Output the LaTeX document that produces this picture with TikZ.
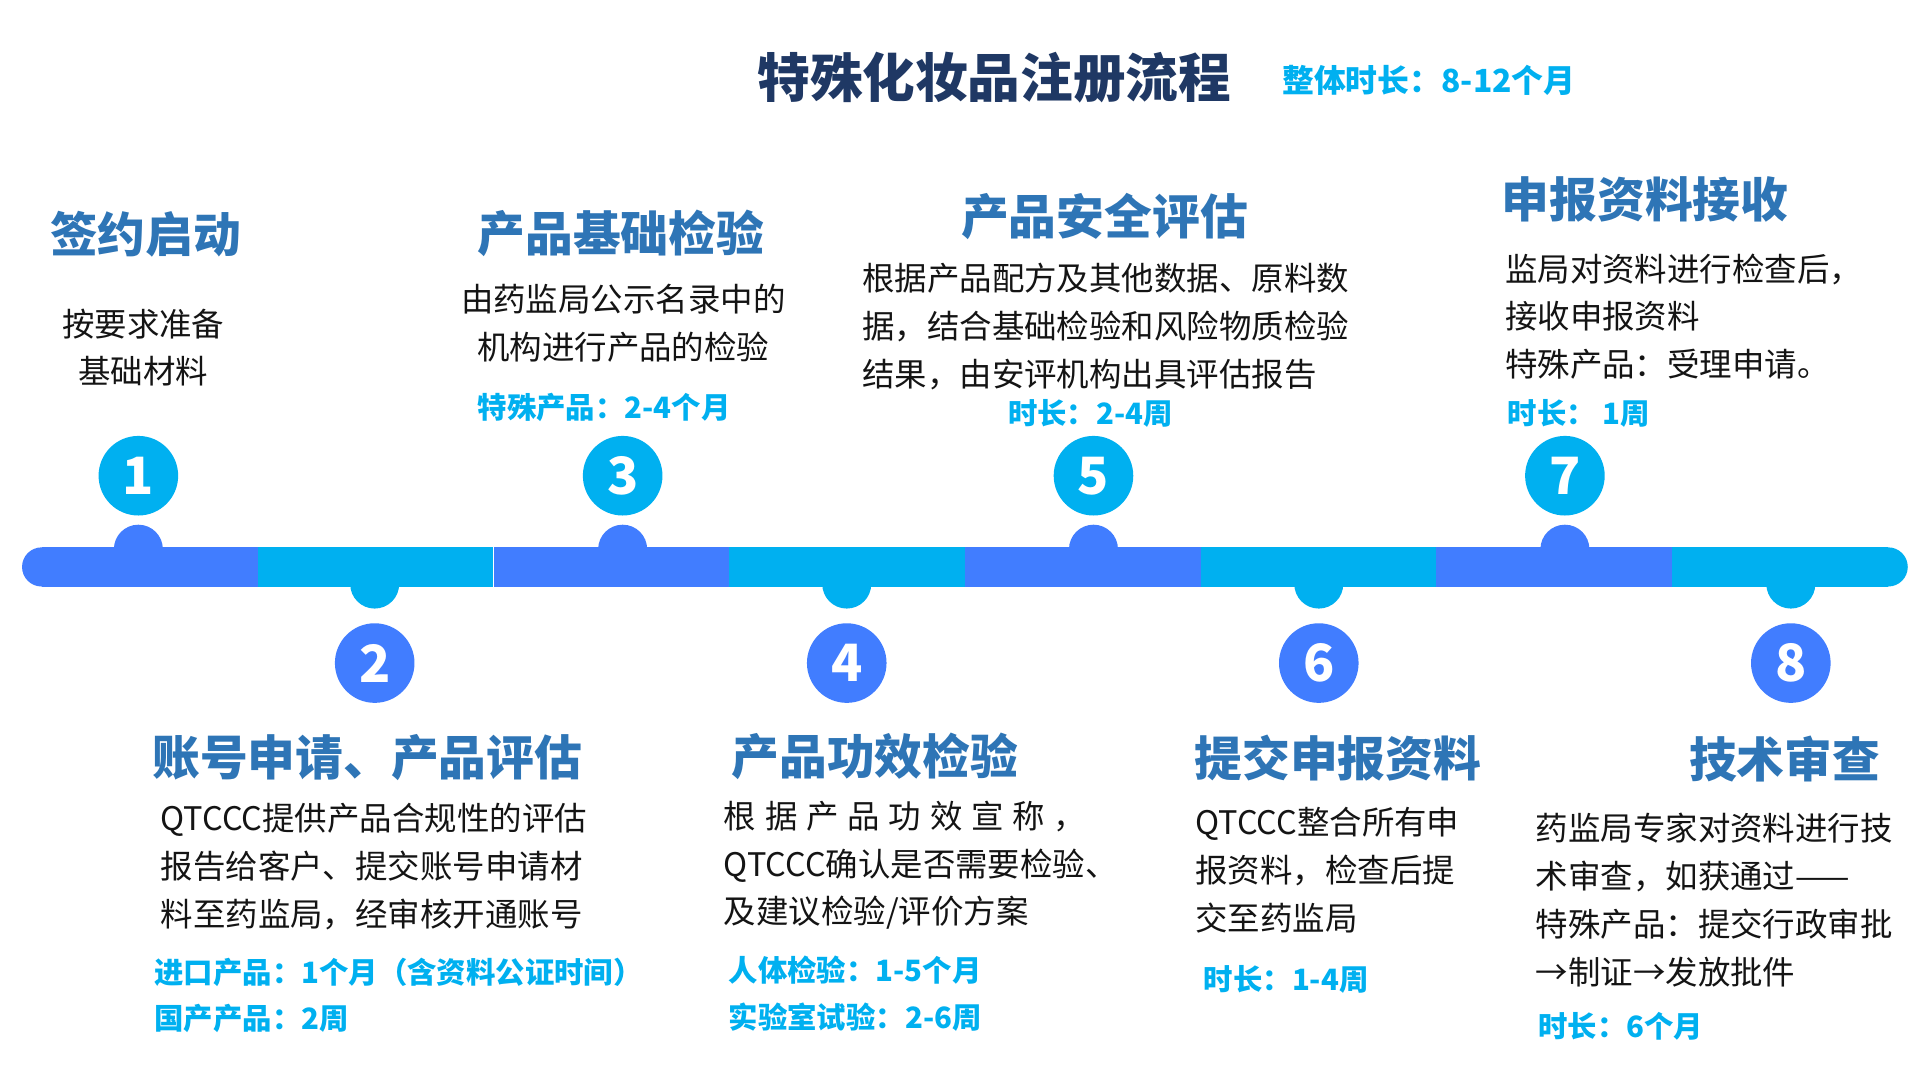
\documentclass[tikz,border=0pt]{standalone}
\usepackage{fontspec}
\setmainfont{Noto Sans CJK SC}
\definecolor{barblue}{RGB}{65,125,255}
\definecolor{cyanc}{RGB}{0,176,240}
\definecolor{headblue}{RGB}{46,117,182}
\definecolor{titlenavy}{RGB}{31,56,100}
\definecolor{bodytext}{RGB}{20,20,20}
\begin{document}
\begin{tikzpicture}[x=1pt,y=-1pt,
  titlestyle/.style={font=\fontsize{43}{50}\selectfont\bfseries, text=titlenavy, inner sep=0},
  substyle/.style={font=\fontsize{26}{32}\selectfont\bfseries, text=cyanc, inner sep=0, anchor=west},
  heading/.style={font=\fontsize{39}{47}\selectfont\bfseries, text=headblue, inner sep=0},
  body/.style={font=\fontsize{26.5}{39}\selectfont, text=bodytext, inner sep=0, align=left},
  dur/.style={font=\fontsize{24}{38}\selectfont\bfseries, text=cyanc, inner sep=0, anchor=west},
  numc/.style={circle, minimum size=65pt, inner sep=0, font=\fontsize{42}{42}\selectfont\bfseries, text=white}]
\useasboundingbox (0,0) rectangle (1568,882);
\fill[white] (0,0) rectangle (1568,882);

% timeline bar
\fill[barblue] (34,447) rectangle (210.5,479);
\fill[barblue] (34,463) circle (16pt);
\fill[cyanc] (210.5,447) rectangle (402.5,479);
\fill[barblue] (403.5,447) rectangle (595.5,479);
\fill[cyanc] (595.5,447) rectangle (788,479);
\fill[barblue] (788,447) rectangle (980.5,479);
\fill[cyanc] (980.5,447) rectangle (1173,479);
\fill[barblue] (1173,447) rectangle (1365.5,479);
\fill[cyanc] (1365.5,447) rectangle (1542,479);
\fill[cyanc] (1542,463) circle (16pt);

% bumps
\foreach \bx in {113,508.5,893,1278} \fill[barblue] (\bx,448.5) circle (20pt);
\foreach \bx in {306,691.5,1077,1462.5} \fill[cyanc] (\bx,477) circle (20pt);

% number circles
\node[numc, fill=cyanc] (n1) at (113,388.5) {1};
\node[numc, fill=barblue] (n2) at (306,541.5) {2};
\node[numc, fill=cyanc] (n3) at (508.5,388.5) {3};
\node[numc, fill=barblue] (n4) at (691.5,541.5) {4};
\node[numc, fill=cyanc] (n5) at (893,388.5) {5};
\node[numc, fill=barblue] (n6) at (1077,541.5) {6};
\node[numc, fill=cyanc] (n7) at (1278,388.5) {7};
\node[numc, fill=barblue] (n8) at (1462.5,541.5) {8};

% title
\node[titlestyle] (title) at (812,63) {特殊化妆品注册流程};
\node[substyle] (total) at (1047,66) {整体时长：8-12个月};

% headings
\node[heading] (h1) at (119,191) {签约启动};
\node[heading] (h3) at (507,191) {产品基础检验};
\node[heading] (h5) at (902,177) {产品安全评估};
\node[heading] (h7) at (1343.5,163) {申报资料接收};
\node[heading] (h2) at (300,619) {账号申请、产品评估};
\node[heading] (h4) at (714.5,618) {产品功效检验};
\node[heading] (h6) at (1092.5,619) {提交申报资料};
\node[heading] (h8) at (1457.5,620) {技术审查};

% bodies
\node[body, align=center, anchor=north] (b1) at (117,252) {按要求准备\\基础材料};
\node[body, align=center, anchor=north] (b3) at (509,232) {由药监局公示名录中的\\机构进行产品的检验};
\node[body, anchor=north west] (b5) at (704,215) {根据产品配方及其他数据、原料数\\据，结合基础检验和风险物质检验\\结果，由安评机构出具评估报告};
\node[body, anchor=north west] (b7) at (1229,207) {监局对资料进行检查后，\\接收申报资料\\特殊产品：受理申请。};
\node[body, anchor=north west] (b2) at (131,656) {QTCCC提供产品合规性的评估\\报告给客户、提交账号申请材\\料至药监局，经审核开通账号};
\node[body, anchor=north west] (b4) at (591,654) {\makebox[296pt][s]{根\hfill 据\hfill 产\hfill 品\hfill 功\hfill 效\hfill 宣\hfill 称\hfill ，}\\QTCCC确认是否需要检验、\\及建议检验/评价方案};
\node[body, anchor=north west] (b6) at (976,659) {QTCCC整合所有申\\报资料，检查后提\\交至药监局};
\node[body, anchor=north west] (b8) at (1254,664) {药监局专家对资料进行技\\术审查，如获通过——\\特殊产品：提交行政审批\\→制证→发放批件};

% durations
\node[dur] (d3) at (390,333) {特殊产品：2-4个月};
\node[dur] (d5) at (823,338) {时长：2-4周};
\node[dur] (d7) at (1231,338) {时长：\ 1周};
\node[dur] (d2a) at (126,794) {进口产品：1个月（含资料公证时间）};
\node[dur] (d2b) at (126,832) {国产产品：2周};
\node[dur] (d4a) at (595,792) {人体检验：1-5个月};
\node[dur] (d4b) at (595,831) {实验室试验：2-6周};
\node[dur] (d6) at (983,800) {时长：1-4周};
\node[dur] (d8) at (1256,838) {时长：6个月};
\end{tikzpicture}
\end{document}
